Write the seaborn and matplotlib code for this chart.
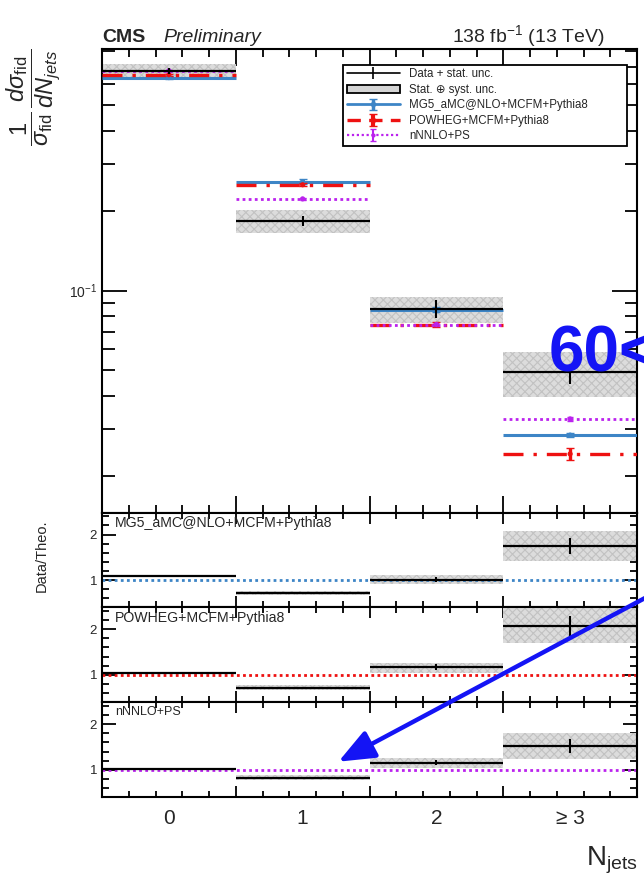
import numpy as np
import pandas as pd
import seaborn as sns
import matplotlib.pyplot as plt
from matplotlib.patches import Patch, FancyArrowPatch
from matplotlib.lines import Line2D
from matplotlib.ticker import LogLocator, NullFormatter, FixedLocator, MultipleLocator

sns.set_style("ticks")
plt.rcParams['font.family'] = ['Liberation Sans', 'DejaVu Sans']
plt.rcParams['mathtext.fontset'] = 'custom'
plt.rcParams['mathtext.rm'] = 'Liberation Sans'
plt.rcParams['mathtext.it'] = 'Liberation Sans:italic'
plt.rcParams['hatch.linewidth'] = 0.8

## values
nj = np.array([0, 1, 2, 3])
nj_labels = ["0", "1", "2", "\u2265 3"]

data = np.array([0.675, 0.183, 0.0851, 0.0492])
data_stat_lo = np.array([0.657, 0.175, 0.0789, 0.0444])
data_stat_hi = np.array([0.693, 0.192, 0.0923, 0.0512])
band_lo = np.array([0.629, 0.1646, 0.0753, 0.0398])
band_hi = np.array([0.718, 0.2016, 0.0949, 0.0589])

mg5 = np.array([0.637, 0.258, 0.0848, 0.0285])
powheg = np.array([0.653, 0.251, 0.0745, 0.0242])
nnlo = np.array([0.676, 0.222, 0.0745, 0.0328])
mg5_relerr = np.array([0.01, 0.02, 0.02, 0.02])
powheg_relerr = np.array([0.01, 0.015, 0.02, 0.05])
nnlo_relerr = np.array([0.01, 0.01, 0.01, 0.02])

## ratio panels: data / theory
ratio_mg5 = np.array([1.08, 0.72, 1.01, 1.75])
ratio_mg5_lo = np.array([1.06, 0.68, 0.91, 1.42])
ratio_mg5_hi = np.array([1.10, 0.76, 1.12, 2.07])
ratio_mg5_stat = np.array([0.01, 0.02, 0.06, 0.18])

ratio_powheg = np.array([1.05, 0.71, 1.17, 2.06])
ratio_powheg_lo = np.array([1.03, 0.66, 1.04, 1.70])
ratio_powheg_hi = np.array([1.07, 0.78, 1.27, 2.50])
ratio_powheg_stat = np.array([0.01, 0.02, 0.07, 0.22])

ratio_nnlo = np.array([1.01, 0.83, 1.16, 1.52])
ratio_nnlo_lo = np.array([0.99, 0.78, 1.05, 1.24])
ratio_nnlo_hi = np.array([1.03, 0.88, 1.27, 1.81])
ratio_nnlo_stat = np.array([0.01, 0.02, 0.06, 0.15])

model_names = ["MG5_aMC@NLO+MCFM+Pythia8", "POWHEG+MCFM+Pythia8", "nNNLO+PS"]
c_mg5 = "#3d85c6"
c_pow = "#ee1111"
c_nnlo = "#bb22ee"
band_face = "#dcdcdc"
band_hatch = "#c2c2c2"

fig = plt.figure(figsize=(6.44, 8.76), dpi=100)
gs = fig.add_gridspec(4, 1, height_ratios=[464.2, 94.6, 95, 95], hspace=0,
                      left=102/644, right=637/644, top=1-48.5/876, bottom=1-797.3/876)
ax = fig.add_subplot(gs[0])
rax = [fig.add_subplot(gs[i], sharex=ax) for i in (1, 2, 3)]

## main panel
ax.set_yscale("log")
ax.bar(nj, band_hi-band_lo, bottom=band_lo, width=1.0, color=band_face,
       hatch="xxxx", edgecolor=band_hatch, linewidth=0, zorder=1)
ax.hlines(mg5, nj-0.5, nj+0.5, color=c_mg5, lw=2.2, zorder=3)
ax.hlines(powheg, nj-0.5, nj+0.5, color=c_pow, lw=2.4, linestyle=(0, (6, 3, 1, 3)), zorder=4)
ax.hlines(nnlo, nj-0.5, nj+0.5, color=c_nnlo, lw=2.0, linestyle=(0, (1, 1.2)), zorder=5)
ax.errorbar(nj, mg5, yerr=mg5*mg5_relerr, fmt="none", ecolor=c_mg5, elinewidth=2, capsize=3, zorder=3)
ax.errorbar(nj, powheg, yerr=powheg*powheg_relerr, fmt="none", ecolor=c_pow, elinewidth=2.4, capsize=3, zorder=4)
ax.errorbar(nj, nnlo, yerr=nnlo*nnlo_relerr, fmt="none", ecolor=c_nnlo, elinewidth=1.5, capsize=2, zorder=5)

centers = pd.DataFrame({
    "nj": np.concatenate([nj, nj, nj]),
    "value": np.concatenate([mg5, powheg, nnlo]),
    "model": np.repeat(model_names, len(nj)),
})
sns.scatterplot(data=centers, x="nj", y="value", hue="model",
                palette=[c_mg5, c_pow, c_nnlo], s=14, edgecolor="none",
                legend=False, ax=ax, zorder=6)

ax.hlines(data, nj-0.5, nj+0.5, color="black", lw=1.6, zorder=7)
ax.errorbar(nj, data, yerr=[data-data_stat_lo, data_stat_hi-data], fmt="none",
            ecolor="black", elinewidth=1.5, capsize=0, zorder=7)

ax.set_xlim(-0.5, 3.5)
ax.set_ylim(0.01452, 0.82)
ax.yaxis.set_major_locator(LogLocator(base=10))
ax.yaxis.set_minor_locator(LogLocator(base=10, subs=np.arange(2, 10)))
ax.yaxis.set_minor_formatter(NullFormatter())
ax.set_xlabel("")
ax.set_ylabel(r"$\dfrac{1}{\sigma_{\mathrm{fid}}}\,\dfrac{d\sigma_{\mathrm{fid}}}{dN_{jets}}$", fontsize=17)
ax.yaxis.set_label_coords(-0.075, 1.0)
ax.yaxis.label.set_ha("right")

## legend
h_data = Line2D([0], [0], color="black", lw=1.2, marker="|", ms=9, mew=1.2)
h_band = Patch(facecolor="#d4d4d4", edgecolor="black", lw=1.3)
h_mg5 = ax.errorbar([np.nan], [np.nan], yerr=[np.nan], color=c_mg5, ls="-", lw=2,
                    marker="o", ms=3, capsize=3, elinewidth=2.5)
h_pow = ax.errorbar([np.nan], [np.nan], yerr=[np.nan], color=c_pow, ls=(0, (4, 2.5)), lw=2.4,
                    marker="o", ms=3, capsize=3, elinewidth=3)
h_nnlo = ax.errorbar([np.nan], [np.nan], yerr=[np.nan], color=c_nnlo, ls=(0, (1, 1.2)), lw=1.6,
                     marker="o", ms=2, capsize=2, elinewidth=1.5)
leg = ax.legend([h_data, h_band, h_mg5, h_pow, h_nnlo],
                ["Data + stat. unc.", "Stat. \u2295 syst. unc.", model_names[0],
                 model_names[1], model_names[2]],
                loc="upper left", bbox_to_anchor=(0.451, 0.0, 0.53, 0.9645), mode="expand",
                borderaxespad=0, fontsize=8.3, labelspacing=0.3, handlelength=4.6,
                handletextpad=0.8, borderpad=0.3, fancybox=False, framealpha=1,
                edgecolor="black")
leg.get_frame().set_linewidth(1.3)

## ratio panels
ratio_sets = [
    (ratio_mg5, ratio_mg5_lo, ratio_mg5_hi, ratio_mg5_stat, c_mg5, model_names[0], 10.2),
    (ratio_powheg, ratio_powheg_lo, ratio_powheg_hi, ratio_powheg_stat, c_pow, model_names[1], 10.2),
    (ratio_nnlo, ratio_nnlo_lo, ratio_nnlo_hi, ratio_nnlo_stat, c_nnlo, model_names[2], 9),
]
for a, (r, lo, hi, st, col, name, fs) in zip(rax, ratio_sets):
    a.bar(nj, hi-lo, bottom=lo, width=1.0, color=band_face, hatch="xxxx",
          edgecolor=band_hatch, linewidth=0, zorder=1)
    a.axhline(1.0, color=col, lw=2, linestyle=(0, (1, 1.2)), zorder=2)
    a.hlines(r, nj-0.5, nj+0.5, color="black", lw=1.6, zorder=3)
    a.errorbar(nj, r, yerr=st, fmt="none", ecolor="black", elinewidth=1.5, capsize=0, zorder=3)
    a.set_ylim(0.4, 2.48)
    a.yaxis.set_major_locator(FixedLocator([1, 2]))
    a.yaxis.set_minor_locator(MultipleLocator(0.2))
    a.text(0.025, 0.96, name, transform=a.transAxes, ha="left", va="top", fontsize=fs)
rax[0].set_ylabel("Data/Theo.", fontsize=10.5)
rax[0].yaxis.set_label_coords(-0.1, 0.55)

for a in [ax] + rax:
    a.xaxis.set_major_locator(FixedLocator([-0.5, 0.5, 1.5, 2.5, 3.5]))
    a.xaxis.set_minor_locator(MultipleLocator(0.2, offset=0.1))
    a.tick_params(axis="x", which="both", labelbottom=False)
    a.tick_params(which="both", direction="in", top=True, right=True, width=1.3, color="black")
    for s in a.spines.values():
        s.set_linewidth(1.5)
        s.set_color("black")
ax.tick_params(axis="x", which="major", length=12)
ax.tick_params(axis="x", which="minor", length=6)
ax.tick_params(axis="y", which="major", length=18, labelsize=10)
ax.tick_params(axis="y", which="minor", length=9)
for a in rax:
    a.tick_params(axis="x", which="major", length=8)
    a.tick_params(axis="x", which="minor", length=4)
    a.tick_params(axis="y", which="major", length=10, labelsize=9.5)
    a.tick_params(axis="y", which="minor", length=5)

for x, lab in zip(nj, nj_labels):
    rax[2].text(x, -0.22, lab, transform=rax[2].get_xaxis_transform(),
                ha="center", va="center", fontsize=15)

fig.text(638/644, 1-866/876, r"N$_{\mathrm{jets}}$", ha="right", va="baseline", fontsize=20)
fig.text(102/644, 1-42/876, "CMS", fontsize=14, fontweight="bold", va="baseline")
fig.text(163/644, 1-42/876, "Preliminary", fontsize=14, style="italic", va="baseline")
fig.text(605/644, 1-42/876, r"138 fb$^{-1}$ (13 TeV)", fontsize=14, ha="right", va="baseline")

## blue overlay annotation
fig.text(549/644, 1-371/876, "60<", fontsize=46, fontweight="bold", color="#1414f5", va="baseline")
arrow = FancyArrowPatch((660/644, 1-590/876), (336/644, 1-763/876), transform=fig.transFigure,
                        arrowstyle="-|>,head_length=1.1,head_width=0.45", mutation_scale=20,
                        color="#1414f5", lw=3.2)
fig.add_artist(arrow)

fig.savefig("out.png", dpi=100)
